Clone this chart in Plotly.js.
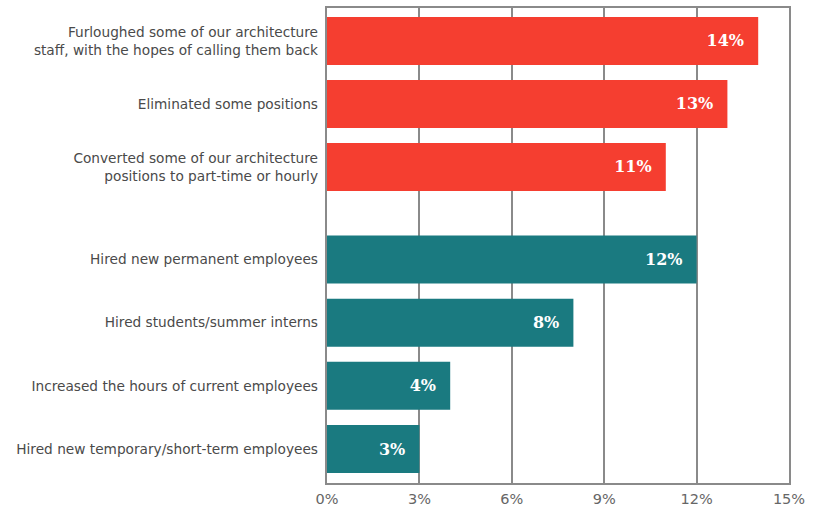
<!DOCTYPE html>
<html>
<head>
<meta charset="utf-8">
<script src="https://cdn.plot.ly/plotly-3.0.1.min.js"></script>
<style>html,body{margin:0;padding:0;background:#fff;}#chart{width:816px;height:509px;}</style>
</head>
<body>
<div id="chart"></div>
<script>
// Group 1: staff reductions
const cutCategories = [
  "Furloughed some of our architecture<br>staff, with the hopes of calling them back",
  "Eliminated some positions",
  "Converted some of our architecture<br>positions to part-time or hourly"
];
const cutValues = [14, 13, 11];

// Group 2: staff additions
const hireCategories = [
  "Hired new permanent employees",
  "Hired students/summer interns",
  "Increased the hours of current employees",
  "Hired new temporary/short-term employees"
];
const hireValues = [12, 8, 4, 3];

const xTickValues = [0, 3, 6, 9, 12, 15];
const xTickLabels = ["0%", "3%", "6%", "9%", "12%", "15%"];

const RED = "#F53E30";
const TEAL = "#1A7A80";
const GRID = "#8a8a8a";
const LABEL_FONT = {family: "DejaVu Sans, sans-serif", size: 13.7, color: "#4a4a4a"};
const VALUE_FONT = {family: "DejaVu Serif, serif", size: 16, color: "#ffffff", weight: "bold"};

const traces = [
  // empty trace so the full-height frame/grid subplot is drawn
  {type: "scatter", mode: "markers", x: [], y: [], xaxis: "x", yaxis: "y", hoverinfo: "skip"},
  {
    type: "bar", orientation: "h",
    x: cutValues, y: cutCategories,
    xaxis: "x2", yaxis: "y2",
    marker: {color: RED},
    text: cutValues.map(v => v + "%\u00a0\u00a0"),
    textposition: "inside", insidetextanchor: "end",
    textfont: VALUE_FONT, hoverinfo: "skip", cliponaxis: false
  },
  {
    type: "bar", orientation: "h",
    x: hireValues, y: hireCategories,
    xaxis: "x3", yaxis: "y3",
    marker: {color: TEAL},
    text: hireValues.map(v => v + "%\u00a0\u00a0"),
    textposition: "inside", insidetextanchor: "end",
    textfont: VALUE_FONT, hoverinfo: "skip", cliponaxis: false
  }
];

const hiddenX = {
  range: [0, 15], matches: "x", showgrid: false, zeroline: false,
  showline: false, showticklabels: false, ticks: "", fixedrange: true
};
const barY = {
  type: "category", autorange: "reversed", showgrid: false, zeroline: false,
  showline: false, ticks: "", tickfont: LABEL_FONT, ticklabelstandoff: 8, fixedrange: true
};

const layout = {
  width: 816, height: 509,
  margin: {l: 327, r: 27, t: 8, b: 26},
  paper_bgcolor: "#ffffff",
  plot_bgcolor: "rgba(0,0,0,0)",
  showlegend: false,
  bargap: 0.24,
  xaxis: {
    range: [0, 15], tickvals: xTickValues, ticktext: xTickLabels,
    showgrid: true, gridcolor: GRID, gridwidth: 2,
    zeroline: false, showline: true, linecolor: GRID, linewidth: 2, mirror: true,
    ticks: "", tickfont: {family: "DejaVu Sans, sans-serif", size: 14.5, color: "#666"},
    ticklabelstandoff: 2, fixedrange: true, anchor: "y"
  },
  yaxis: {
    range: [0, 1], domain: [0, 1], showgrid: false, zeroline: false,
    showline: true, linecolor: GRID, linewidth: 2, mirror: true,
    showticklabels: false, ticks: "", fixedrange: true, anchor: "x"
  },
  xaxis2: Object.assign({}, hiddenX, {anchor: "y2"}),
  yaxis2: Object.assign({}, barY, {domain: [0.599, 0.997], anchor: "x2"}),
  xaxis3: Object.assign({}, hiddenX, {anchor: "y3"}),
  yaxis3: Object.assign({}, barY, {domain: [0.005, 0.537], anchor: "x3"})
};

Plotly.newPlot("chart", traces, layout, {displayModeBar: false, staticPlot: true});
</script>
</body>
</html>
